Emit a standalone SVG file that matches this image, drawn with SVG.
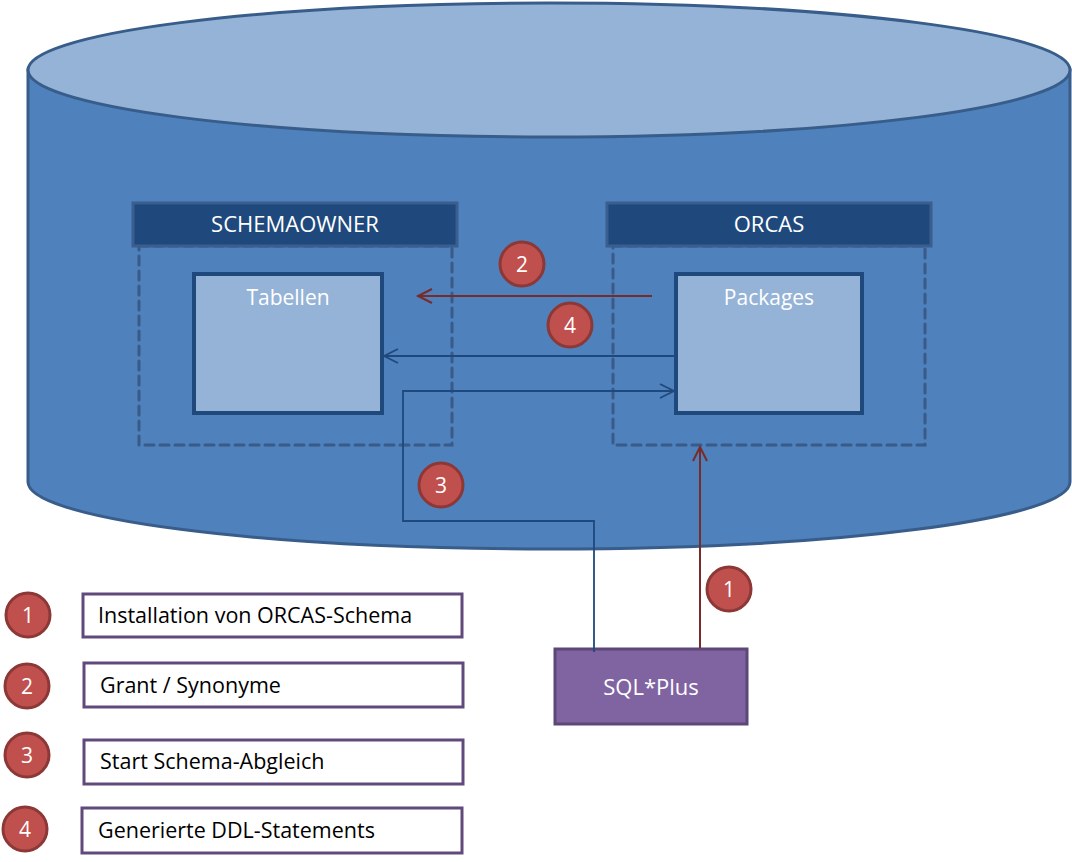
<svg xmlns="http://www.w3.org/2000/svg" width="1072" height="862" viewBox="0 0 1072 862">
<defs>
<style>
.txt{font-family:"Open Sans","Liberation Sans",sans-serif;}
.cyl{fill:#4F81BD;stroke:#385D8A;stroke-width:3;}
.cyltop{fill:#95B3D7;stroke:#385D8A;stroke-width:3;}
.hdr{fill:#1F497D;stroke:#3A5F8F;stroke-width:3;}
.hdrt{fill:#ffffff;font-size:22px;text-anchor:middle;}
.dash{fill:none;stroke:#385B88;stroke-width:3;stroke-dasharray:9 6;stroke-linecap:round;}
.inner{fill:#95B3D7;stroke:#1F497D;stroke-width:4;}
.innert{fill:#ffffff;font-size:21px;text-anchor:middle;}
.badge{fill:#C0504D;stroke:#8C3836;stroke-width:3;}
.badget{fill:#ffffff;font-size:21px;text-anchor:middle;}
.leg{fill:#ffffff;stroke:#604A7B;stroke-width:3;}
.legt{fill:#000000;font-size:21.5px;}
.red{fill:none;stroke:#772C2A;stroke-width:2;}
.blue{fill:none;stroke:#1F497D;stroke-width:1.8;}
</style>
<marker id="ahRed" markerUnits="userSpaceOnUse" markerWidth="20" markerHeight="20" viewBox="-16 -10 20 20" refX="0" refY="0" orient="auto">
<path d="M-14,-7 L0,0 L-14,7" fill="none" stroke="#772C2A" stroke-width="2"/>
</marker>
<marker id="ahBlue" markerUnits="userSpaceOnUse" markerWidth="20" markerHeight="20" viewBox="-16 -10 20 20" refX="0" refY="0" orient="auto">
<path d="M-14,-7 L0,0 L-14,7" fill="none" stroke="#1F497D" stroke-width="1.8"/>
</marker>
</defs>

<g id="database">
<path class="cyl" d="M28,70 L28,482 A521,67 0 0 0 1070,482 L1070,70 Z"/>
<ellipse class="cyltop" cx="549" cy="70" rx="521" ry="67"/>
</g>

<g id="schemaowner">
<rect class="dash" x="139" y="246" width="313" height="199"/>
<rect class="hdr" x="133" y="203" width="324" height="43"/>
<text class="txt hdrt" x="295" y="232">SCHEMAOWNER</text>
</g>

<g id="orcas">
<rect class="dash" x="613" y="246" width="312" height="199"/>
<rect class="hdr" x="607" y="203" width="324" height="43"/>
<text class="txt hdrt" x="769" y="232">ORCAS</text>
</g>

<g id="tabellen">
<rect class="inner" x="194" y="274" width="188" height="139"/>
<text class="txt innert" x="288" y="305">Tabellen</text>
</g>

<g id="packages">
<rect class="inner" x="676" y="274" width="186" height="139"/>
<text class="txt innert" x="769" y="305">Packages</text>
</g>

<g id="sqlplus">
<rect x="555" y="649" width="192" height="75" fill="#8064A2" stroke="#5C4776" stroke-width="3"/>
<text class="txt" x="651" y="695" fill="#ffffff" font-size="22" text-anchor="middle">SQL*Plus</text>
</g>

<g id="connectors">
<line class="red" x1="652" y1="296" x2="418" y2="296" marker-end="url(#ahRed)"/>
<line class="blue" x1="675" y1="356" x2="384" y2="356" marker-end="url(#ahBlue)"/>
<polyline class="blue" points="594,652 594,521 403,521 403,391 674,391" marker-end="url(#ahBlue)"/>
<line class="red" x1="700" y1="648" x2="700" y2="447" marker-end="url(#ahRed)"/>
</g>

<g id="badge-2">
<circle class="badge" cx="522" cy="264" r="22"/>
<text class="txt badget" x="522" y="272">2</text>
</g>
<g id="badge-4">
<circle class="badge" cx="570" cy="325" r="22"/>
<text class="txt badget" x="570" y="333">4</text>
</g>
<g id="badge-3">
<circle class="badge" cx="441" cy="485" r="22"/>
<text class="txt badget" x="441" y="493">3</text>
</g>
<g id="badge-1">
<circle class="badge" cx="729" cy="589" r="22"/>
<text class="txt badget" x="729" y="597">1</text>
</g>

<g id="legend-1">
<circle class="badge" cx="28" cy="615" r="22"/>
<text class="txt badget" x="28" y="623">1</text>
<rect class="leg" x="83" y="594" width="379" height="43"/>
<text class="txt legt" x="98" y="623">Installation von ORCAS-Schema</text>
</g>
<g id="legend-2">
<circle class="badge" cx="27" cy="686" r="22"/>
<text class="txt badget" x="27" y="694">2</text>
<rect class="leg" x="84" y="663" width="379" height="44"/>
<text class="txt legt" x="100" y="693">Grant / Synonyme</text>
</g>
<g id="legend-3">
<circle class="badge" cx="27" cy="755" r="22"/>
<text class="txt badget" x="27" y="763">3</text>
<rect class="leg" x="84" y="740" width="379" height="44"/>
<text class="txt legt" x="100" y="769">Start Schema-Abgleich</text>
</g>
<g id="legend-4">
<circle class="badge" cx="25" cy="829" r="22"/>
<text class="txt badget" x="25" y="837">4</text>
<rect class="leg" x="82" y="808" width="380" height="45"/>
<text class="txt legt" x="98" y="838">Generierte DDL-Statements</text>
</g>
</svg>
